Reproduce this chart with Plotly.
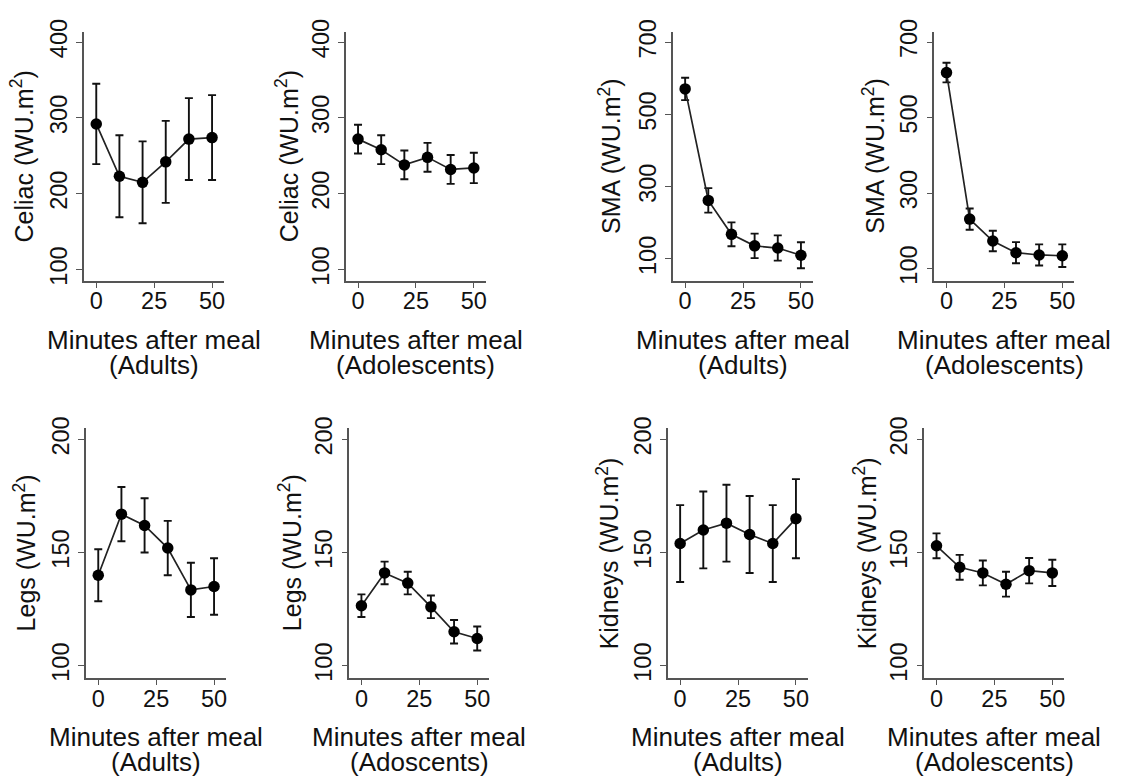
import plotly.graph_objects as go

# Sampling times (minutes after the meal)
minutes = [0, 10, 20, 30, 40, 50]

# Blood flow (WU.m2), mean and error-bar half-width per time point
celiac_adults = [292, 223, 215, 242, 272, 274]
celiac_adults_err = [53, 54, 54, 54, 54, 56]
celiac_adol = [272, 258, 238, 248, 232, 234]
celiac_adol_err = [19, 19, 19, 19, 19, 20]

sma_adults = [571, 262, 168, 136, 130, 110]
sma_adults_err = [31, 34, 33, 34, 35, 36]
sma_adol = [619, 231, 173, 142, 136, 134]
sma_adol_err = [26, 28, 27, 28, 28, 30]

legs_adults = [140, 167, 162, 152, 133.5, 135]
legs_adults_err = [11.5, 12, 12, 12, 12, 12.5]
legs_adol = [126.5, 141, 136.5, 126, 115, 112]
legs_adol_err = [5, 5, 5, 5, 5.2, 5.3]

kidneys_adults = [154, 160, 163, 158, 154, 165]
kidneys_adults_err = [17, 17, 17, 17, 17, 17.5]
kidneys_adol = [153, 143.5, 141, 136, 142, 141]
kidneys_adol_err = [5.5, 5.5, 5.5, 5.5, 5.6, 5.8]

x_ticks = [0, 25, 50]
x_title = "Minutes after meal"

W, H = 1122, 778
FONT = "Liberation Sans, Arial, Helvetica, sans-serif"
INK = "#111111"
AXIS = "#555555"

# Panel layout in pixels: left edge of plot area, top/bottom of plot area
panels = [
    dict(y=celiac_adults, e=celiac_adults_err, ylab="Celiac (WU.m<sup>2</sup>)", group="(Adults)",
         left=84.3, top=20, bottom=274.5, yr=[85.6, 413.8], yt=[100, 200, 300, 400], ylx=22.5),
    dict(y=celiac_adol, e=celiac_adol_err, ylab="Celiac (WU.m<sup>2</sup>)", group="(Adolescents)",
         left=346.3, top=20, bottom=274.5, yr=[85.6, 413.8], yt=[100, 200, 300, 400], ylx=287.5),
    dict(y=sma_adults, e=sma_adults_err, ylab="SMA (WU.m<sup>2</sup>)", group="(Adults)",
         left=673.7, top=20, bottom=274.5, yr=[40, 730], yt=[100, 300, 500, 700], ylx=610.5),
    dict(y=sma_adol, e=sma_adol_err, ylab="SMA (WU.m<sup>2</sup>)", group="(Adolescents)",
         left=935.3, top=20, bottom=274.5, yr=[68.4, 727.7], yt=[100, 300, 500, 700], ylx=874.5),
    dict(y=legs_adults, e=legs_adults_err, ylab="Legs (WU.m<sup>2</sup>)", group="(Adults)",
         left=86.3, top=425.5, bottom=680.5, yr=[94.7, 205], yt=[100, 150, 200], ylx=24.5),
    dict(y=legs_adol, e=legs_adol_err, ylab="Legs (WU.m<sup>2</sup>)", group="(Adoscents)",
         left=349.7, top=425.5, bottom=680.5, yr=[94.7, 205], yt=[100, 150, 200], ylx=290.5),
    dict(y=kidneys_adults, e=kidneys_adults_err, ylab="Kidneys (WU.m<sup>2</sup>)", group="(Adults)",
         left=668.7, top=425.5, bottom=680.5, yr=[94.7, 205], yt=[100, 150, 200], ylx=608),
    dict(y=kidneys_adol, e=kidneys_adol_err, ylab="Kidneys (WU.m<sup>2</sup>)", group="(Adolescents)",
         left=925.3, top=425.5, bottom=680.5, yr=[94.7, 205], yt=[100, 150, 200], ylx=866),
]

PLOT_W = 140
X_RANGE = [-5.2, 55.2]

fig = go.Figure()
layout = dict(
    width=W, height=H,
    margin=dict(l=0, r=0, t=0, b=0),
    paper_bgcolor="white", plot_bgcolor="white",
    showlegend=False,
    font=dict(family=FONT, color=INK),
)
annotations = []

for i, p in enumerate(panels, start=1):
    xa, ya = f"x{i}", f"y{i}"
    fig.add_trace(go.Scatter(
        x=minutes, y=p["y"], xaxis=xa, yaxis=ya,
        mode="lines+markers",
        line=dict(color="#222222", width=1.7),
        marker=dict(color="black", size=11.5),
        error_y=dict(type="data", array=p["e"], color=INK, thickness=1.9, width=4),
        hoverinfo="skip",
    ))
    x0 = p["left"] / W
    x1 = (p["left"] + PLOT_W) / W
    y0 = 1 - p["bottom"] / H
    y1 = 1 - p["top"] / H
    common = dict(showline=True, linecolor=AXIS, linewidth=1.5, ticks="outside",
                  ticklen=6, tickwidth=1.3, tickcolor=AXIS, showgrid=False,
                  zeroline=False, fixedrange=True,
                  tickfont=dict(family=FONT, size=23.5, color=INK))
    layout[f"xaxis{i}"] = dict(domain=[x0, x1], anchor=ya, range=X_RANGE,
                               tickvals=x_ticks, ticklabelstandoff=-7, **common)
    layout[f"yaxis{i}"] = dict(domain=[y0, y1], anchor=xa, range=p["yr"],
                               tickvals=p["yt"], tickangle=-90, **common)

    # y-axis title, rotated
    annotations.append(dict(
        text=p["ylab"], xref="paper", yref="paper",
        x=p["ylx"] / W, y=1 - (p["top"] + p["bottom"]) / 2 / H,
        xanchor="center", yanchor="middle", textangle=-90, showarrow=False,
        font=dict(family=FONT, size=25, color=INK),
    ))
    # two-line x-axis title
    cx = (x0 + x1) / 2
    for txt, off in ((x_title, 60.5), (p["group"], 86.5)):
        annotations.append(dict(
            text=txt, xref="paper", yref="paper",
            x=cx, y=1 - (p["bottom"] + off) / H,
            xanchor="center", yanchor="middle", showarrow=False,
            font=dict(family=FONT, size=26, color=INK),
        ))

layout["annotations"] = annotations
fig.update_layout(**layout)

fig.write_html("out.html")
